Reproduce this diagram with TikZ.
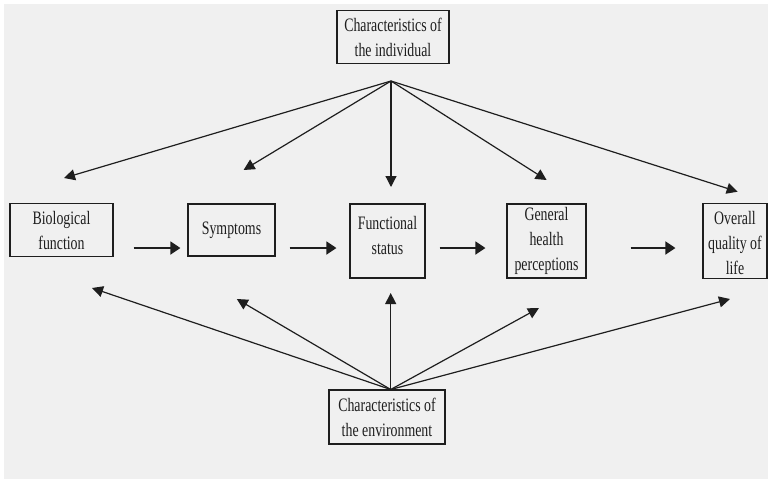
\documentclass[tikz,border=0pt]{standalone}
\usepackage{fontspec}
\setmainfont{Liberation Serif}[FakeStretch=0.73]
\usetikzlibrary{arrows.meta}
\definecolor{bg}{RGB}{240,240,240}
\definecolor{ink}{RGB}{30,30,30}
\newcommand\liftup[2]{\raisebox{#1}[\height][\depth]{\begin{tabular}{@{}c@{}}#2\end{tabular}}}
\begin{document}
\begin{tikzpicture}[x=1pt,y=-1pt,
  box/.style={draw=ink,line width=1.2pt,align=center,inner sep=0pt,
    font=\fontsize{19}{25}\selectfont,text=ink},
  darr/.style={draw=ink,line width=1.2pt,-{Triangle[length=11pt,width=11pt]}},
  harr/.style={draw=ink,line width=1.8pt,-{Triangle[length=10pt,width=13pt]}}]
\useasboundingbox (0,0) rectangle (768,483);
\fill[white] (0,0) rectangle (768,483);
\fill[bg] (4,4) rectangle (768,479);
% nodes
\node[box,minimum width=112pt,minimum height=53pt] (top) at (393,37) {Characteristics of\\the individual};
\node[box,minimum width=116pt,minimum height=54pt] (bot) at (387,417) {Characteristics of\\the environment};
\node[box,minimum width=103pt,minimum height=53pt] (bio) at (61.5,230) {\liftup{-2pt}{Biological\\function}};
\node[box,minimum width=87pt,minimum height=52pt] (sym) at (231.5,230) {Symptoms};
\node[box,minimum width=75pt,minimum height=74pt] (func) at (387.5,241) {\liftup{4.5pt}{Functional\\status}};
\node[box,minimum width=79pt,minimum height=74pt] (gen) at (546.5,241) {General\\health\\perceptions};
\node[box,minimum width=64pt,minimum height=73pt] (ov) at (735,241) {\liftup{-3pt}{Overall\\quality of\\life}};
% apex and free ends
\coordinate (ts) at (391,81);
\coordinate (bs) at (390.7,389.5);
\coordinate (tbio) at (64,178);
\coordinate (tsym) at (243.6,170);
\coordinate (tfunc) at (391,187);
\coordinate (tgen) at (546.6,180);
\coordinate (tov) at (737.7,191.7);
\coordinate (bbio) at (92,288);
\coordinate (bsym) at (236.8,299);
\coordinate (bfunc) at (390.7,293);
\coordinate (bgen) at (539,308);
\coordinate (bov) at (730,299);
% top arrows
\draw[darr] (ts) -- (tbio);
\draw[darr] (ts) -- (tsym);
\draw[darr] (ts) -- (tfunc);
\draw[darr] (ts) -- (tgen);
\draw[darr] (ts) -- (tov);
% bottom arrows
\draw[darr] (bs) -- (bbio);
\draw[darr] (bs) -- (bsym);
\draw[darr] (bs) -- (bfunc);
\draw[darr] (bs) -- (bgen);
\draw[darr] (bs) -- (bov);
% horizontal arrows
\draw[harr] ([xshift=20pt,yshift=-18pt]bio.east) -- ([xshift=-7pt,yshift=-18pt]sym.west);
\draw[harr] ([xshift=14pt,yshift=-18pt]sym.east) -- ([xshift=-13pt,yshift=-7pt]func.west);
\draw[harr] ([xshift=14pt,yshift=-7pt]func.east) -- ([xshift=-21pt,yshift=-7pt]gen.west);
\draw[harr] ([xshift=44pt,yshift=-7pt]gen.east) -- ([xshift=-27pt,yshift=-7pt]ov.west);
\end{tikzpicture}
\end{document}
